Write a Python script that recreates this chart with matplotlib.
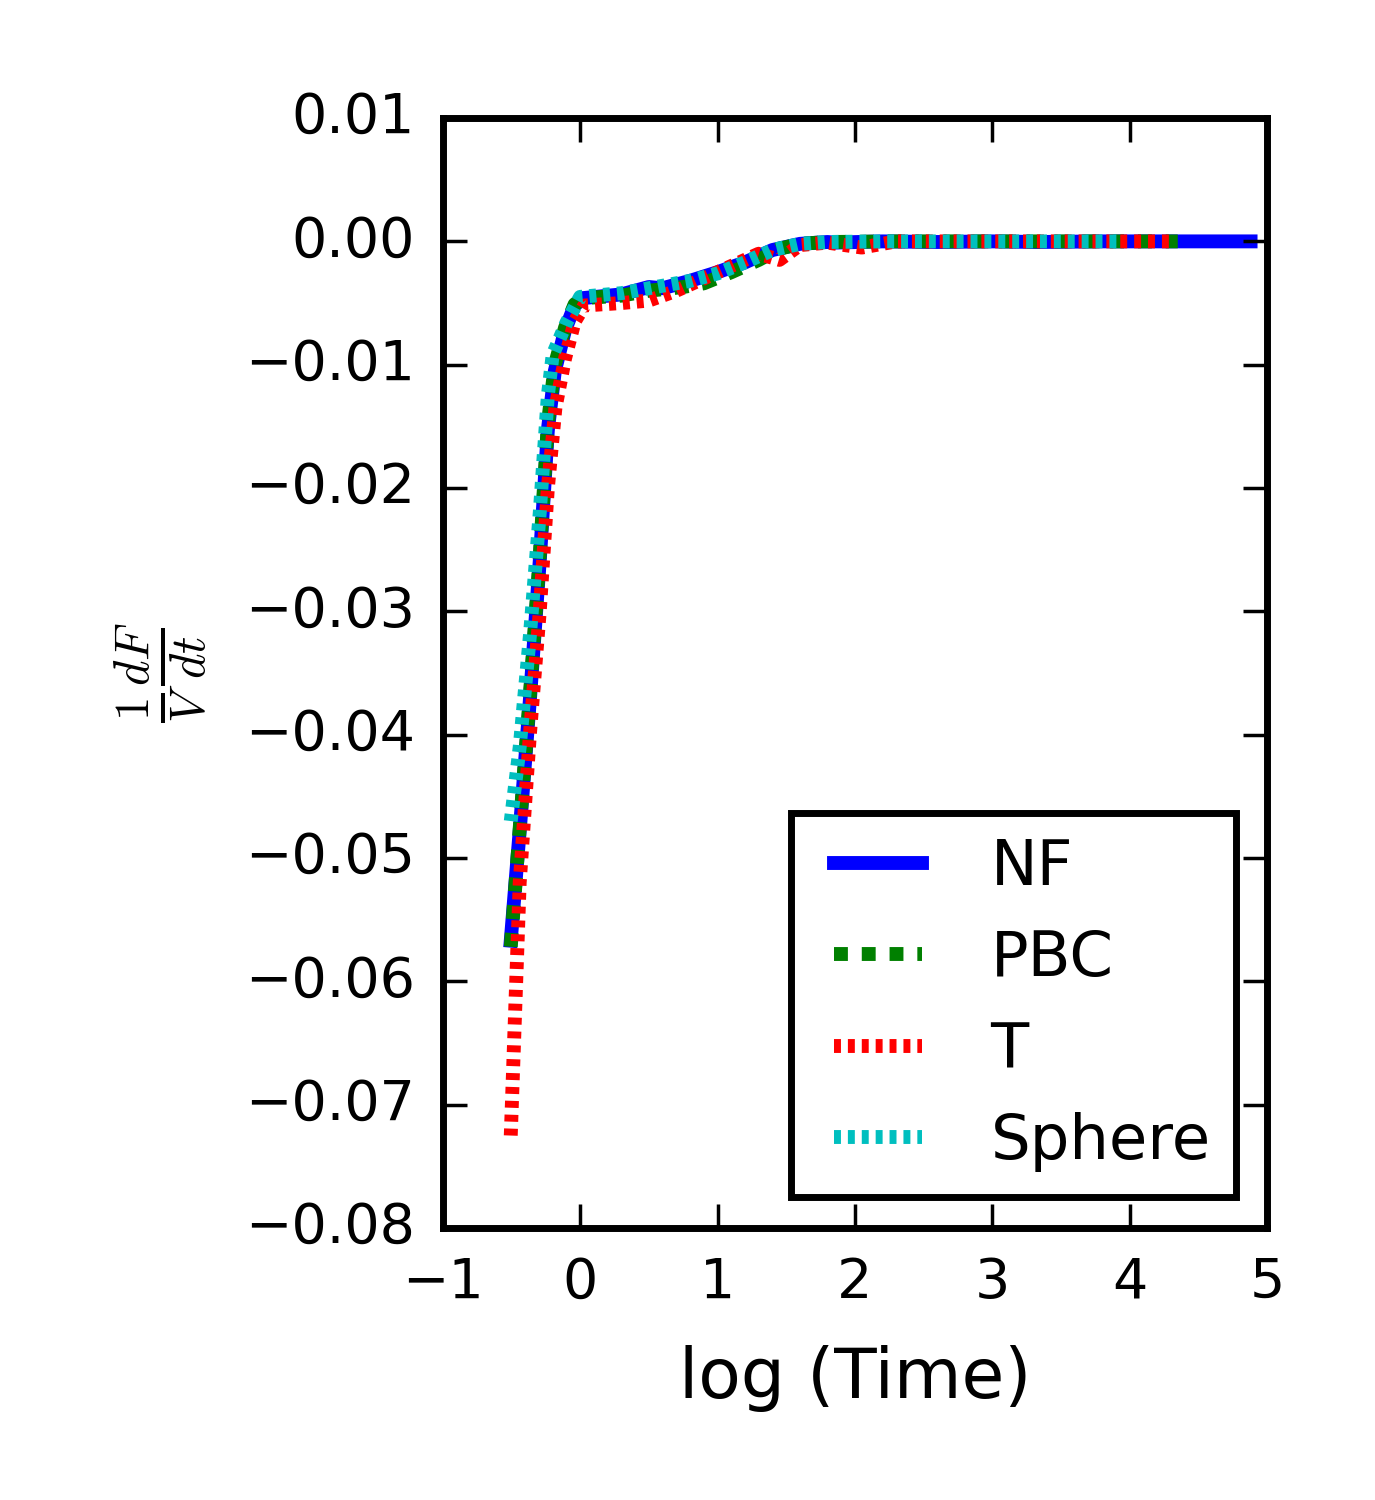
import matplotlib
matplotlib.use("Agg")
from matplotlib import pyplot as plt

# log10(time) and (1/V) dF/dt for each boundary condition
nf_x = [-0.505, -0.44, -0.366, -0.294, -0.235, -0.184, -0.11, -0.04, 0.02,
        0.3, 0.5, 0.6, 0.8, 1.0, 1.2, 1.4, 1.6, 1.8, 1.85, 2.2, 2.6, 3.0,
        3.33, 3.8, 4.3, 4.88]
nf_y = [-0.0567, -0.0478, -0.0372, -0.0259, -0.0153, -0.0105, -0.0072,
        -0.0052, -0.0046, -0.0043, -0.0037, -0.0038, -0.0032, -0.0025,
        -0.0017, -0.0007, -0.0002, -0.00005, -0.0001, 0.0, -0.00005, 0.0,
        -0.00005, 0.0, 0.0, 0.0]

pbc_x = [-0.505, -0.44, -0.366, -0.294, -0.235, -0.184, -0.11, -0.04, 0.02,
         0.3, 0.5, 0.75, 0.9, 1.1, 1.3, 1.45, 1.6, 1.8, 2.3, 2.8, 3.4, 3.9,
         4.35]
pbc_y = [-0.0572, -0.0476, -0.0368, -0.0255, -0.0148, -0.0100, -0.0070,
         -0.0051, -0.0046, -0.0044, -0.0040, -0.0037, -0.0034, -0.0025,
         -0.0015, -0.0006, -0.0002, -0.00005, 0.0, 0.0, 0.0, 0.0, 0.0]

t_x = [-0.505, -0.44, -0.366, -0.294, -0.235, -0.18, -0.11, -0.04, 0.03,
       0.3, 0.5, 0.7, 0.9, 1.1, 1.3, 1.45, 1.6, 1.8, 2.05, 2.3, 2.8, 3.4,
       3.9, 4.3]
t_y = [-0.0725, -0.0520, -0.0400, -0.0300, -0.0200, -0.0135, -0.0095,
       -0.0065, -0.0052, -0.0050, -0.0048, -0.0040, -0.0030, -0.0020,
       -0.0010, -0.0015, -0.0003, -0.0001, -0.0005, 0.0, 0.0, 0.0, 0.0, 0.0]

sph_x = [-0.505, -0.44, -0.366, -0.294, -0.235, -0.2, -0.1, 0.0, 0.3, 0.5,
         0.8, 1.0, 1.2, 1.4, 1.6, 1.8, 2.2, 2.7, 3.2, 3.6, 3.95]
sph_y = [-0.0470, -0.0410, -0.0320, -0.0220, -0.0125, -0.0092, -0.0066,
         -0.0045, -0.0042, -0.0038, -0.0032, -0.0026, -0.0017, -0.0007,
         -0.0002, -0.00005, 0.0, 0.0, 0.0, 0.0, 0.0]

labels = ["NF", "PBC", "T", "Sphere"]
xticks = [-1, 0, 1, 2, 3, 4, 5]
yticks = [-0.08, -0.07, -0.06, -0.05, -0.04, -0.03, -0.02, -0.01, 0.0, 0.01]

plt.style.use("classic")
plt.rcParams["lines.scale_dashes"] = False

fig = plt.figure(figsize=(5.5, 6), dpi=250, facecolor="white")
ax = fig.add_axes([0.322, 0.1813, 0.5995, 0.74])

ax.plot(nf_x, nf_y, color="b", lw=4, label=labels[0])
ax.plot(pbc_x, pbc_y, color="g", lw=4, dashes=(4, 4), label=labels[1])
ax.plot(t_x, t_y, color="r", lw=4, dashes=(2, 2), label=labels[2])
ax.plot(sph_x, sph_y, color="c", lw=4, dashes=(2, 2), label=labels[3])

ax.set_xlim(-1, 5)
ax.set_ylim(-0.08, 0.01)
ax.set_xticks(xticks)
ax.set_yticks(yticks)
ax.tick_params(direction="in", length=7, width=1, labelsize=16, pad=8,
               top=True, right=True)
for sp in ax.spines.values():
    sp.set_linewidth(2)

ax.set_xlabel("log (Time)", fontsize=20, labelpad=10)
ax.set_ylabel(r"$\frac{1}{V}\frac{dF}{dt}$", fontsize=20, labelpad=10)

leg = ax.legend(loc="lower right", fontsize=18, handlelength=2.0,
                handletextpad=0.8, labelspacing=0.5, borderpad=0.4,
                borderaxespad=0.5)
leg.get_frame().set_linewidth(2)
leg.get_frame().set_edgecolor("black")

fig.savefig("out.png", dpi=250, facecolor="white")
